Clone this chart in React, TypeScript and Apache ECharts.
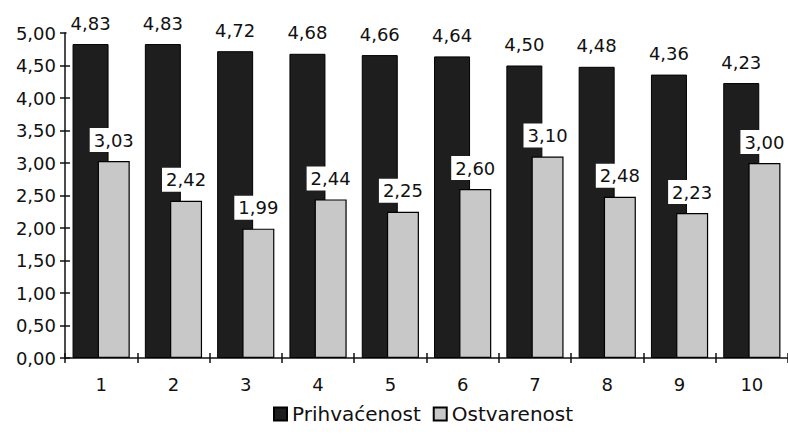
import React, { useEffect, useRef } from "react";
import * as echarts from "echarts";

const categories = ["1", "2", "3", "4", "5", "6", "7", "8", "9", "10"];
const prihvacenost = [4.83, 4.83, 4.72, 4.68, 4.66, 4.64, 4.5, 4.48, 4.36, 4.23];
const ostvarenost = [3.03, 2.42, 1.99, 2.44, 2.25, 2.6, 3.1, 2.48, 2.23, 3.0];
const seriesNames = ["Prihvaćenost", "Ostvarenost"];

const FONT = "DejaVu Sans";
const fmt = (v: number) => v.toFixed(2).replace(".", ",");

export default function App() {
  const ref = useRef<HTMLDivElement>(null);
  useEffect(() => {
    if (!ref.current) return;
    const chart = echarts.init(ref.current, null, { renderer: "svg" });
    const labelStyle = {
      show: true,
      position: "top",
      distance: 9,
      backgroundColor: "#ffffff",
      padding: [3, 4, 3, 4],
      color: "#111",
      fontFamily: FONT,
      fontSize: 18,
      formatter: (p: any) => fmt(p.value),
    };
    chart.setOption({
      animation: false,
      backgroundColor: "#ffffff",
      textStyle: { fontFamily: FONT },
      grid: { left: 65, right: -1, top: 33, bottom: 79, containLabel: false },
      legend: {
        left: 268,
        top: 399,
        itemWidth: 13,
        itemHeight: 13,
        itemGap: 12,
        icon: "rect",
        textStyle: { fontFamily: FONT, fontSize: 20, color: "#111" },
        data: seriesNames,
      },
      xAxis: [
        {
          type: "category",
          data: categories,
          axisLine: { show: true, lineStyle: { color: "#111", width: 1.5 } },
          axisTick: { show: true, inside: false, length: 5, lineStyle: { color: "#111", width: 1.5 } },
          axisLabel: { margin: 17, fontFamily: FONT, fontSize: 18, color: "#111" },
          splitLine: { show: false },
        },
        {
          type: "category",
          data: categories,
          position: "bottom",
          axisLine: { show: false },
          axisTick: { show: true, inside: true, length: 5, lineStyle: { color: "#111", width: 1.5 } },
          axisLabel: { show: false },
          splitLine: { show: false },
        },
      ],
      yAxis: [
        {
          type: "value",
          min: 0,
          max: 5,
          interval: 0.5,
          axisLine: { show: true, lineStyle: { color: "#111", width: 1.5 } },
          axisTick: { show: true, inside: false, length: 5, lineStyle: { color: "#111", width: 1.5 } },
          axisLabel: { margin: 9, fontFamily: FONT, fontSize: 18, color: "#111", formatter: (v: number) => fmt(v) },
          splitLine: { show: false },
        },
        {
          type: "value",
          min: 0,
          max: 5,
          interval: 0.5,
          position: "left",
          axisLine: { show: false },
          axisTick: { show: true, inside: true, length: 5, lineStyle: { color: "#111", width: 1.5 } },
          axisLabel: { show: false },
          splitLine: { show: false },
        },
      ],
      series: [
        {
          name: seriesNames[0],
          type: "bar",
          data: prihvacenost,
          barWidth: 36,
          barGap: "-30%",
          itemStyle: { color: "#1e1e1e", borderColor: "#000", borderWidth: 1 },
          label: labelStyle,
          z: 2,
        },
        {
          name: seriesNames[1],
          type: "bar",
          data: ostvarenost,
          barWidth: 32,
          itemStyle: { color: "#c8c8c8", borderColor: "#000", borderWidth: 1.2 },
          label: labelStyle,
          z: 3,
        },
      ],
    });
    return () => chart.dispose();
  }, []);
  return (
    <div
      ref={ref}
      style={{ position: "fixed", left: 0, top: 0, width: 788, height: 437, background: "#fff" }}
    />
  );
}
